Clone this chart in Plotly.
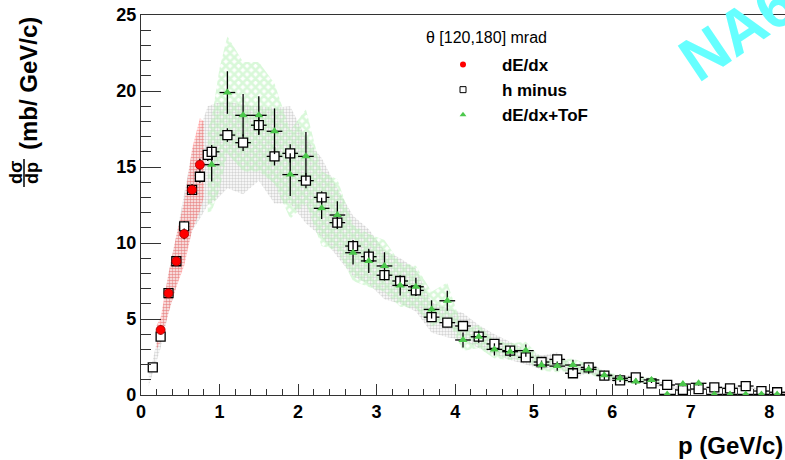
import plotly.graph_objects as go

# ---------------- data ----------------
hm_x = [0.15, 0.25, 0.35, 0.45, 0.55, 0.65, 0.75, 0.85, 0.9, 1.1, 1.3, 1.5, 1.7, 1.9, 2.1, 2.3, 2.5, 2.7, 2.9,
        3.1, 3.3, 3.5, 3.7, 3.9, 4.1, 4.3, 4.5, 4.7, 4.9, 5.1, 5.3, 5.5, 5.7, 5.9, 6.1, 6.3, 6.5, 6.7, 6.9,
        7.1, 7.3, 7.5, 7.7, 7.9, 8.1]
hm_y = [1.82, 3.84, 6.7, 8.8, 11.1, 13.5, 14.36, 15.8, 16.0, 17.1, 16.6, 17.75, 15.7, 15.9, 14.1, 13.0, 11.34,
        9.8, 9.1, 7.88, 7.5, 6.88, 5.12, 4.76, 4.54, 3.84, 3.36, 2.92, 2.48, 2.17, 2.34, 1.43, 1.82, 1.28, 0.96,
        1.16, 0.77, 0.66, 0.33, 0.39, 0.5, 0.44, 0.59, 0.26, 0.18]
hm_ey = [0.25, 0.3, 0.3, 0.3, 0.35, 0.35, 0.4, 0.4, 0.45, 0.45, 0.55, 0.65, 0.6, 0.6, 0.5, 0.4, 0.4, 0.4, 0.4,
         0.35, 0.35, 0.35, 0.3, 0.3, 0.3, 0.3, 0.25, 0.25, 0.25, 0.2, 0.2, 0.2, 0.2, 0.2, 0.15, 0.15, 0.15,
         0.15, 0.15, 0.15, 0.15, 0.15, 0.2, 0.15, 0.15]
hm_ex = [0.05, 0.05, 0.05, 0.05, 0.05, 0.05, 0.05, 0.05] + [0.1] * 37

tof_x = [0.9, 1.1, 1.3, 1.5, 1.7, 1.9, 2.1, 2.3, 2.5, 2.7, 2.9, 3.1, 3.3, 3.5, 3.7, 3.9, 4.1, 4.3, 4.5, 4.7,
         4.9, 5.1, 5.3, 5.5, 5.7, 5.9, 6.1, 6.3, 6.5, 6.7, 6.9, 7.1, 7.3, 7.5, 7.7, 7.9, 8.1]
tof_y = [15.15, 19.9, 18.4, 18.4, 17.35, 14.5, 15.7, 12.28, 11.84, 9.36, 8.82, 8.49, 7.21, 7.12, 5.63, 6.2,
         3.62, 3.84, 3.0, 2.85, 2.92, 1.97, 1.9, 1.97, 1.69, 1.3, 1.1, 0.88, 0.99, 0.04, 0.72, 0.77, 0.04,
         0.04, 0.04, 0.04, 0.04]
tof_ey = [1.1, 1.4, 1.4, 1.25, 1.5, 1.4, 1.6, 0.7, 0.9, 0.77, 0.8, 0.9, 0.66, 0.6, 0.6, 0.66, 0.5, 0.4, 0.4,
          0.35, 0.4, 0.3, 0.3, 0.35, 0.3, 0.3, 0.25, 0.2, 0.2, 0.0, 0.15, 0.15, 0.0, 0.0, 0.0, 0.0, 0.0]

dedx_x = [0.25, 0.35, 0.45, 0.55, 0.65, 0.75]
dedx_y = [4.28, 6.7, 8.8, 10.6, 13.5, 15.15]
dedx_ey = [0.3, 0.3, 0.3, 0.35, 0.35, 0.4]

# systematic bands
grey_x = [0.1, 0.15, 0.25, 0.35, 0.45, 0.55, 0.65, 0.75, 0.85, 0.95, 1.1, 1.3, 1.5, 1.7, 1.9, 2.1, 2.3, 2.5,
          2.7, 2.9, 3.1, 3.3, 3.5, 3.7, 3.9, 4.1, 4.3, 4.5, 4.7, 4.9, 5.1, 5.3, 5.5, 5.7, 5.9, 6.1, 6.3, 6.5,
          6.7, 6.9, 7.1, 7.3, 7.5, 7.7, 7.9, 8.1, 8.2]
grey_hi = [1.6, 2.3, 4.7, 8.0, 10.5, 13.3, 16.0, 17.5, 19.0, 19.2, 19.3, 19.1, 19.0, 18.9, 19.0, 16.9, 15.6,
           13.6, 11.8, 10.9, 9.5, 9.0, 8.3, 6.1, 5.7, 5.4, 4.6, 4.0, 3.5, 3.0, 2.6, 2.8, 1.9, 2.2, 1.55, 1.2,
           1.4, 0.95, 0.8, 0.45, 0.5, 0.6, 0.55, 0.7, 0.35, 0.25, 0.22]
grey_lo = [0.6, 1.4, 3.1, 5.4, 7.1, 8.9, 10.8, 11.6, 12.5, 12.8, 13.6, 13.2, 14.1, 12.6, 12.6, 11.3, 10.4, 9.1,
           7.8, 7.3, 6.3, 6.0, 5.5, 4.1, 3.8, 3.6, 3.1, 2.7, 2.3, 2.0, 1.7, 1.9, 1.1, 1.45, 1.0, 0.77, 0.9, 0.6,
           0.5, 0.25, 0.3, 0.4, 0.35, 0.47, 0.2, 0.14, 0.12]

green_x = [0.85, 0.9, 1.0, 1.1, 1.3, 1.5, 1.7, 1.9, 2.1, 2.3, 2.5, 2.7, 2.9, 3.1, 3.3, 3.5, 3.7, 3.9, 4.1, 4.3,
           4.5, 4.7, 4.9, 5.1, 5.3, 5.5, 5.7, 5.9, 6.1, 6.3, 6.5, 6.6]
green_hi = [17.5, 18.2, 21.5, 23.6, 21.9, 21.9, 20.5, 17.4, 18.8, 14.7, 14.2, 11.2, 10.6, 10.2, 8.7, 8.5, 6.8,
            7.4, 4.3, 4.6, 3.6, 3.4, 3.5, 2.4, 2.3, 2.4, 2.0, 1.55, 1.3, 1.05, 1.2, 1.0]
green_lo = [12.0, 12.1, 13.5, 15.9, 14.7, 14.7, 13.9, 11.6, 12.6, 9.8, 9.5, 7.5, 7.1, 6.8, 5.8, 5.7, 4.5, 5.0,
            2.9, 3.1, 2.4, 2.3, 2.3, 1.6, 1.5, 1.6, 1.35, 1.05, 0.9, 0.7, 0.8, 0.85]

red_x = [0.2, 0.25, 0.35, 0.45, 0.55, 0.65, 0.75, 0.8]
red_hi = [4.6, 5.1, 8.0, 10.5, 12.7, 16.2, 18.2, 18.0]
red_lo = [3.0, 3.5, 5.4, 7.1, 8.5, 10.8, 12.1, 13.0]

x_ticks = [0, 1, 2, 3, 4, 5, 6, 7, 8]
y_ticks = [0, 5, 10, 15, 20, 25]

FONT = "Liberation Sans, Arial, sans-serif"
NB = "\u00a0" * 4

# plot-area geometry (pixels)
W, H = 785, 460
L, T, PW, PH = 141, 15, 644, 380


def px(xp):
    return (xp - L) / PW


def py(yp):
    return (T + PH - yp) / PH


fig = go.Figure()


def band(xs, hi, lo, fg, shape, size, solidity):
    fig.add_trace(go.Scatter(
        x=list(xs) + list(xs)[::-1], y=list(hi) + list(lo)[::-1],
        mode="lines", fill="toself", line=dict(width=0, color="rgba(0,0,0,0)"),
        fillcolor="rgba(0,0,0,0)",
        fillpattern=dict(shape=shape, fgcolor=fg, bgcolor="rgba(0,0,0,0)", size=size, solidity=solidity),
        showlegend=False, hoverinfo="skip"))


band(grey_x, grey_hi, grey_lo, "#a9a9a9", ".", 3, 0.5)
band(green_x, green_hi, green_lo, "#b4f2b4", "x", 6, 0.7)
band(red_x, red_hi, red_lo, "#ff4a4a", ".", 3, 0.65)

err_style = dict(type="data", color="black", thickness=1.3, width=0)

fig.add_trace(go.Scatter(
    x=hm_x, y=hm_y, mode="markers", showlegend=False,
    error_y=dict(array=hm_ey, **err_style), error_x=dict(array=hm_ex, **err_style),
    marker=dict(symbol="square", size=9, color="white", line=dict(color="black", width=1.3))))

fig.add_trace(go.Scatter(
    x=tof_x, y=tof_y, mode="markers", showlegend=False,
    error_y=dict(array=tof_ey, **err_style), error_x=dict(array=[0.1] * len(tof_x), **err_style),
    marker=dict(symbol="triangle-up", size=8, color="#4cc84c", line=dict(width=0))))

fig.add_trace(go.Scatter(
    x=dedx_x, y=dedx_y, mode="markers", showlegend=False,
    error_y=dict(array=dedx_ey, **err_style), error_x=dict(array=[0.05] * len(dedx_x), **err_style),
    marker=dict(symbol="circle", size=9, color="#ff0000", line=dict(width=0.8, color="#990000"))))

# legend entries (small markers, like the reference legend)
fig.add_trace(go.Scatter(x=[None], y=[None], mode="markers", name=NB + "dE/dx", legendrank=1,
                         marker=dict(symbol="circle", size=6, color="#ff0000")))
fig.add_trace(go.Scatter(x=[None], y=[None], mode="markers", name=NB + "h minus", legendrank=2,
                         marker=dict(symbol="square", size=6, color="white", line=dict(color="black", width=1))))
fig.add_trace(go.Scatter(x=[None], y=[None], mode="markers", name=NB + "dE/dx+ToF", legendrank=3,
                         marker=dict(symbol="triangle-up", size=6, color="#4cc84c")))

axis_common = dict(showgrid=False, zeroline=False, showline=True, linecolor="#333333", linewidth=1.3,
                   ticks="inside", tickcolor="#333333", tickwidth=1.2,
                   tickfont=dict(family=FONT, size=18, color="black", weight="bold"))

fig.update_xaxes(range=[0, 8.2], tickvals=x_ticks, ticklen=11, mirror=True,
                 minor=dict(dtick=0.2, ticklen=6, ticks="inside", tickcolor="#333333", tickwidth=1.1),
                 **axis_common)
fig.update_yaxes(range=[0, 25], tickvals=y_ticks, ticklen=20,
                 minor=dict(dtick=1, ticklen=10, ticks="inside", tickcolor="#333333", tickwidth=1.1),
                 **axis_common)

annotations = [
    dict(text="p (GeV/c)", x=px(785), y=py(445), xanchor="right", yanchor="middle",
         font=dict(family=FONT, size=24, color="black", weight="bold")),
    dict(text="(mb/ GeV/c)", x=px(28), y=py(84), textangle=-90, xanchor="center", yanchor="middle",
         font=dict(family=FONT, size=24, color="black", weight="bold")),
    dict(text="dσ", x=px(16), y=py(173), textangle=-90, xanchor="center", yanchor="middle",
         font=dict(family=FONT, size=18, color="black", weight="bold")),
    dict(text="dp", x=px(32), y=py(173), textangle=-90, xanchor="center", yanchor="middle",
         font=dict(family=FONT, size=18, color="black", weight="bold")),
    dict(text="θ [120,180] mrad", x=px(424), y=py(38), xanchor="left", yanchor="middle",
         font=dict(family=FONT, size=16, color="black")),
    dict(text="NA61", x=px(752), y=py(22), textangle=-34, xanchor="center", yanchor="middle",
         font=dict(family=FONT, size=62, color="#66ffff", weight="bold")),
]
for a in annotations:
    a.update(xref="paper", yref="paper", showarrow=False)

fig.update_layout(
    width=W, height=H, margin=dict(l=L, r=W - L - PW, t=T, b=H - T - PH),
    paper_bgcolor="white", plot_bgcolor="white",
    annotations=annotations,
    shapes=[dict(type="line", xref="paper", yref="paper", x0=px(24), x1=px(24), y0=py(159), y1=py(187),
                 line=dict(color="black", width=1.5))],
    legend=dict(x=px(443), y=py(47), xanchor="left", yanchor="top", bgcolor="rgba(0,0,0,0)",
                traceorder="normal",
                font=dict(family=FONT, size=17, color="black", weight="bold")),
    showlegend=True,
)

fig.write_html("out.html")
